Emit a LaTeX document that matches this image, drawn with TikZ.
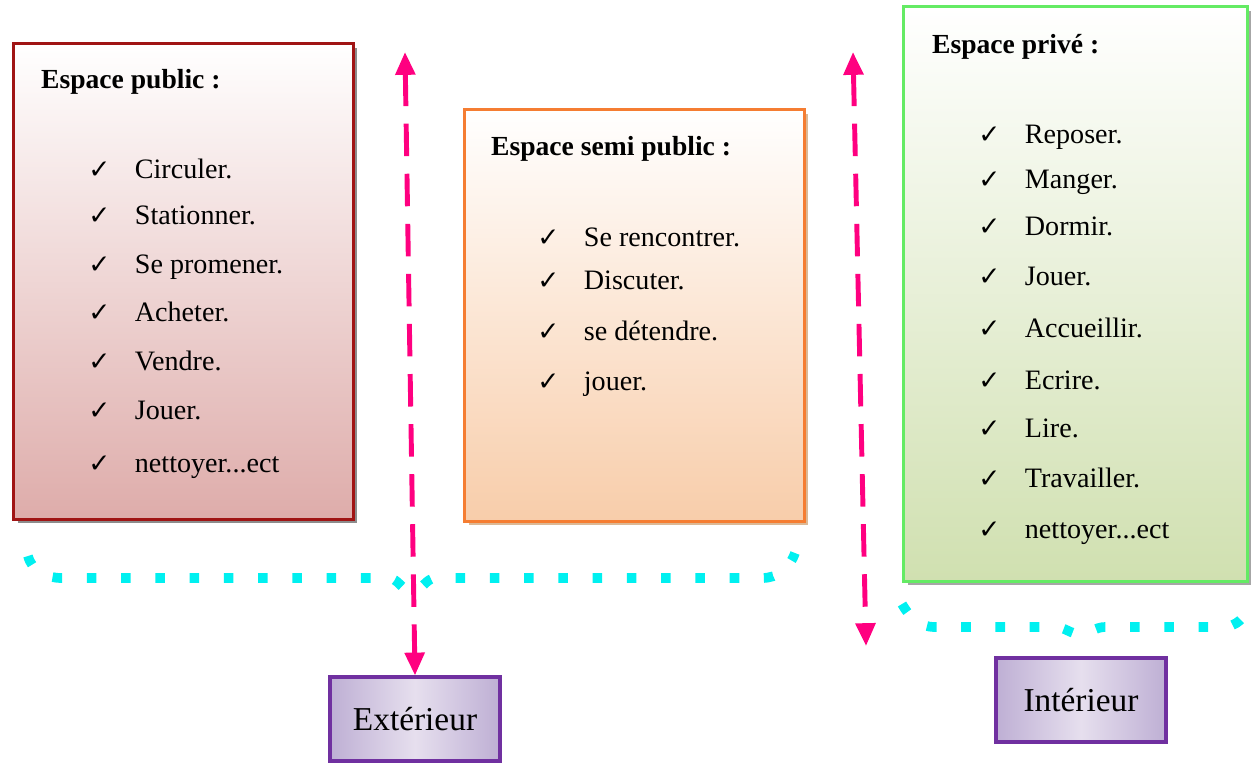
\documentclass[tikz,border=0pt]{standalone}
\usepackage{fontspec}
\setmainfont{Liberation Serif}
\newfontfamily\ckfont{DejaVu Sans}
\definecolor{publine}{RGB}{160,20,20}
\definecolor{pubfill}{RGB}{222,172,170}
\definecolor{semiline}{RGB}{245,125,50}
\definecolor{semifill}{RGB}{248,205,170}
\definecolor{privline}{RGB}{100,235,100}
\definecolor{privfill}{RGB}{208,224,176}
\definecolor{extline}{RGB}{112,48,160}
\definecolor{extlight}{RGB}{230,223,238}
\definecolor{extdark}{RGB}{190,175,212}
\definecolor{arrowpink}{RGB}{255,0,128}
\definecolor{dotcyan}{RGB}{0,240,240}
\usetikzlibrary{arrows.meta,shadows}
\newcommand{\chk}[1]{\makebox[26.5pt][l]{\ckfont\fontsize{15}{15}\selectfont ✓}#1}

\begin{document}
\begin{tikzpicture}[x=0.02cm, y=-0.02cm,
		spacebox/.style={anchor=north west, line width=1.7pt,
			top color=white, inner sep=0pt},
		titletext/.style={anchor=base west, font=\rmfamily\fontsize{15.7}{18}\selectfont\bfseries},
		itemtext/.style={anchor=base west, font=\rmfamily\fontsize{16}{19}\selectfont, inner sep=0pt},
		placebox/.style={draw=extline, line width=1.8pt, minimum width=3.4cm,
			minimum height=1.68cm, shading angle=35, left color=extdark,
			right color=extdark, middle color=extlight,
			font=\rmfamily\fontsize{19}{22}\selectfont},
		parr/.style={arrowpink, line width=2.8pt, dash pattern=on 18.5pt off 10pt},
		cyandots/.style={dotcyan, line width=5.5pt, dash pattern=on 5.5pt off 14pt}
	]
	\useasboundingbox (0,0) rectangle (1256,765);
	% the three spaces
	\node[spacebox, draw=publine, bottom color=pubfill, minimum width=6.8cm,
		minimum height=9.52cm, drop shadow={shadow xshift=2.3pt, shadow yshift=-2.3pt, fill=black!45, opacity=1}] (pub) at (12,42) {};
	\node[spacebox, draw=semiline, bottom color=semifill, minimum width=6.8cm,
		minimum height=8.24cm, drop shadow={shadow xshift=2.3pt, shadow yshift=-2.3pt, fill=brown!55, opacity=1}] (semi) at (463,108) {};
	\node[spacebox, draw=privline, bottom color=privfill, minimum width=6.88cm,
		minimum height=11.5cm, drop shadow={shadow xshift=2.3pt, shadow yshift=-2.3pt, fill=black!35, opacity=1}] (priv) at (902,5) {};

	\node[titletext] (pubT) at (35,88) {Espace public :};
	\node[itemtext] (pub1) at (88,178) {\chk{Circuler.}};
	\node[itemtext] (pub2) at (88,224) {\chk{Stationner.}};
	\node[itemtext] (pub3) at (88,273) {\chk{Se promener.}};
	\node[itemtext] (pub4) at (88,321) {\chk{Acheter.}};
	\node[itemtext] (pub5) at (88,370) {\chk{Vendre.}};
	\node[itemtext] (pub6) at (88,419) {\chk{Jouer.}};
	\node[itemtext] (pub7) at (88,472) {\chk{nettoyer...ect}};

	\node[titletext] (semiT) at (485,155) {Espace semi public :};
	\node[itemtext] (semi1) at (537,246) {\chk{Se rencontrer.}};
	\node[itemtext] (semi2) at (537,289) {\chk{Discuter.}};
	\node[itemtext] (semi3) at (537,340) {\chk{se détendre.}};
	\node[itemtext] (semi4) at (537,390) {\chk{jouer.}};

	\node[titletext] (privT) at (926,53) {Espace privé :};
	\node[itemtext] (priv1) at (978,143) {\chk{Reposer.}};
	\node[itemtext] (priv2) at (978,188) {\chk{Manger.}};
	\node[itemtext] (priv3) at (978,235) {\chk{Dormir.}};
	\node[itemtext] (priv4) at (978,285) {\chk{Jouer.}};
	\node[itemtext] (priv5) at (978,337) {\chk{Accueillir.}};
	\node[itemtext] (priv6) at (978,389) {\chk{Ecrire.}};
	\node[itemtext] (priv7) at (978,437) {\chk{Lire.}};
	\node[itemtext] (priv8) at (978,487) {\chk{Travailler.}};
	\node[itemtext] (priv9) at (978,538) {\chk{nettoyer...ect}};

	% outside / inside
	\node[placebox] (ext) at (415,719) {Extérieur};
	\node[placebox] (int) at (1081,700) {Intérieur};

	% limits
	\draw[cyandots] (28,556) to[out=-75,in=180] (62,578) -- (388,578)
		to[out=0,in=180] (412,591) to[out=0,in=180] (436,578) -- (762,578)
		to[out=0,in=-110] (795,553);
	\draw[cyandots] (902,604) to[out=-60,in=180] (935,627) -- (1055,627)
		to[out=0,in=180] (1080,634) to[out=0,in=180] (1105,627) -- (1222,627)
		to[out=0,in=-115] (1252,603);

	% arrows
	\coordinate (extTop) at (405,52);
	\coordinate (intTop) at (853,52);
	\coordinate (intBot) at (866,646);
	\draw[parr, {Triangle[width=11pt,length=13pt]}-{Triangle[width=11pt,length=13pt]}] (extTop) -- (ext.north);
	\draw[parr, {Triangle[width=11pt,length=13pt]}-{Triangle[width=11pt,length=13pt]}] (intTop) -- (intBot);
\end{tikzpicture}
\end{document}
